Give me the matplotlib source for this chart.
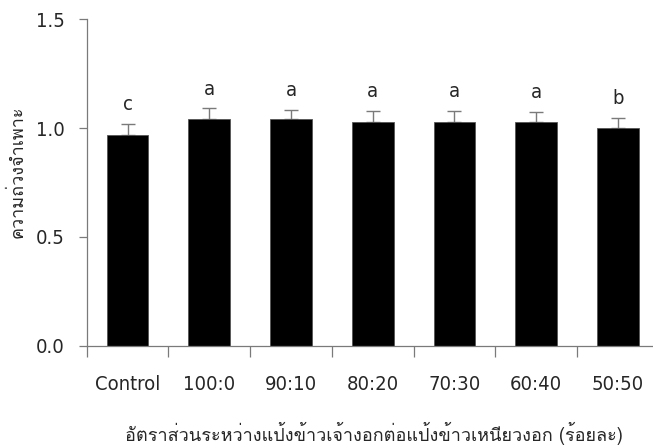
import numpy as np
import matplotlib
matplotlib.use("Agg")
import matplotlib.pyplot as plt
from matplotlib import font_manager
from matplotlib.ft2font import FT2Font

categories = ["Control", "100:0", "90:10", "80:20", "70:30", "60:40", "50:50"]
values = [0.97, 1.04, 1.04, 1.03, 1.03, 1.03, 1.00]
errors = [0.05, 0.05, 0.045, 0.05, 0.05, 0.045, 0.045]
letters = ["c", "a", "a", "a", "a", "a", "b"]
y_ticks = [0.0, 0.5, 1.0, 1.5]
y_label = "ความถ่วงจำเพาะ"
x_label = "อัตราส่วนระหว่างแป้งข้าวเจ้างอกต่อแป้งข้าวเหนียวงอก (ร้อยละ)"

STRETCH = {"ultra-condensed": 50, "extra-condensed": 62, "condensed": 75,
           "semi-condensed": 87, "normal": 100, "semi-expanded": 112,
           "expanded": 125}
WEIGHT = {"light": 300, "normal": 400, "regular": 400, "book": 400,
          "medium": 500, "semibold": 600, "bold": 700}


def has_chars(path, chars):
    try:
        ft = FT2Font(path)
        return all(ft.get_char_index(ord(c)) for c in chars)
    except Exception:
        return False


def pick_font(chars, min_weight=250, max_weight=400):
    """Path of the narrowest, lightest upright sans face covering chars."""
    best, key = None, None
    for f in font_manager.fontManager.ttflist:
        st = f.stretch if isinstance(f.stretch, int) else STRETCH.get(f.stretch, 100)
        wt = f.weight if isinstance(f.weight, int) else WEIGHT.get(f.weight, 400)
        if f.style != "normal" or wt < min_weight or wt > max_weight:
            continue
        if "Mono" in f.name or "Serif" in f.name or "CJK" in f.name:
            continue
        if not has_chars(f.fname, chars):
            continue
        k = (st, -wt)
        if key is None or k < key:
            best, key = f.fname, k
    return best


def prop_for(path, size):
    p = font_manager.FontProperties(fname=path) if path else \
        font_manager.FontProperties(family="DejaVu Sans")
    p.set_size(size)
    return p


latin_path = pick_font("Control0123456789:.abc")
thai_path = pick_font("กวจ") or pick_font("กวจ", 100, 900)

text_color = "#262626"
axis_color = "#7a7a7a"

fig = plt.figure(figsize=(6.53, 4.48), dpi=100)
ax = fig.add_axes([0.1328, 0.2284, 0.8672, 0.7286])

x = np.arange(len(categories))
ax.bar(x, values, width=0.51, color="black", edgecolor="#555555", linewidth=0.6, zorder=2)
ax.errorbar(x, values, yerr=[np.zeros(len(errors)), errors], fmt="none",
            ecolor=axis_color, elinewidth=1.0, capsize=5, capthick=1.0, zorder=1)

for xi, v, e, s in zip(x, values, errors, letters):
    ax.annotate(s, (xi, v + e), xytext=(0, 10), textcoords="offset points",
                ha="center", va="baseline", color=text_color,
                fontproperties=prop_for(latin_path, 14.5))

ax.set_xlim(-0.5, 6.43)
ax.set_ylim(0, 1.5)
ax.set_yticks(y_ticks)
ax.set_yticklabels([f"{t:.1f}" for t in y_ticks])
ax.tick_params(axis="y", direction="out", length=6, width=0.9, color=axis_color,
               labelcolor=text_color, pad=10)

# tick marks sit on the category boundaries, labels under each bar
ax.set_xticks(x - 0.5, minor=True)
ax.tick_params(axis="x", which="minor", direction="out", length=8, width=0.9,
               color=axis_color)
ax.set_xticks(x)
ax.set_xticklabels(categories)
ax.tick_params(axis="x", which="major", length=0, labelcolor=text_color, pad=21)

for lbl in ax.get_xticklabels() + ax.get_yticklabels():
    lbl.set_fontproperties(prop_for(latin_path, 14.5))

for side in ("top", "right"):
    ax.spines[side].set_visible(False)
for side in ("left", "bottom"):
    ax.spines[side].set_color(axis_color)
    ax.spines[side].set_linewidth(0.9)

ax.set_ylabel(y_label, fontproperties=prop_for(thai_path, 13), color=text_color,
              va="center")
ax.yaxis.set_label_coords(-0.1225, 0.532)
fig.text(0.573, 0.0156, x_label, ha="center", va="baseline",
         fontproperties=prop_for(thai_path, 13), color=text_color)

fig.savefig("out.png", dpi=100)
